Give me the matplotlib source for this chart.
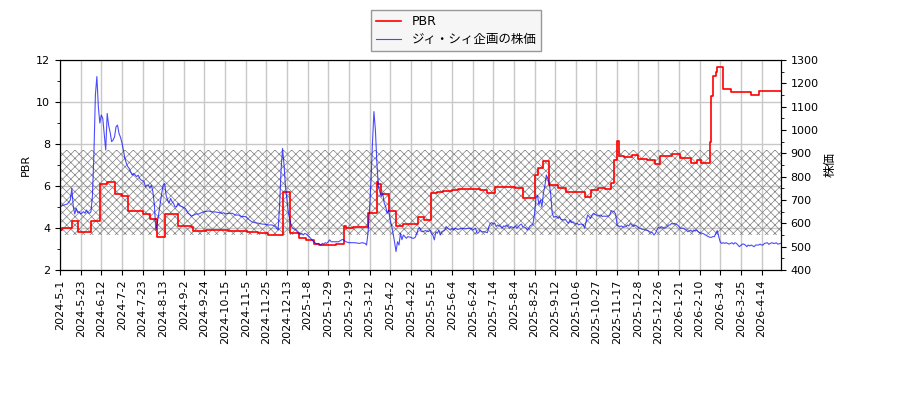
import numpy as np
import matplotlib
matplotlib.use('Agg')
import matplotlib.pyplot as plt
from matplotlib.ticker import MultipleLocator

# x軸は営業日インデックス（14営業日ごとに日付ラベル）
tick_labels = ['2024-5-1', '2024-5-23', '2024-6-12', '2024-7-2', '2024-7-23', '2024-8-13',
               '2024-9-2', '2024-9-24', '2024-10-15', '2024-11-5', '2024-11-25', '2024-12-13',
               '2025-1-8', '2025-1-29', '2025-2-19', '2025-3-12', '2025-4-2', '2025-4-22',
               '2025-5-15', '2025-6-4', '2025-6-24', '2025-7-14', '2025-8-4', '2025-8-25',
               '2025-9-12', '2025-10-6', '2025-10-27', '2025-11-17', '2025-12-8', '2025-12-26',
               '2026-1-21', '2026-2-10', '2026-3-4', '2026-3-25', '2026-4-14']
n_days = 490

# PBR（階段状）
pbr_idx = [0, 1, 8, 12, 21, 27, 32, 37, 42, 46,
           56, 61, 66, 71, 80, 89, 90, 99, 114, 127,
           134, 141, 151, 156, 162, 167, 172, 176, 187, 193,
           194, 199, 209, 215, 216, 218, 223, 228, 233, 243,
           247, 252, 256, 260, 266, 270, 285, 290, 295, 309,
           314, 319, 322, 324, 328, 332, 338, 343, 356, 360,
           365, 370, 374, 376, 378, 379, 383, 388, 392, 398,
           404, 407, 415, 421, 428, 432, 435, 441, 442, 443,
           445, 446, 450, 455, 469, 474, 489]
pbr_val = [3.90, 4.00, 4.35, 3.79, 4.35, 6.10, 6.17, 5.60, 5.52, 4.83,
           4.67, 4.41, 3.56, 4.67, 4.10, 4.03, 3.86, 3.92, 3.87, 3.79,
           3.74, 3.67, 5.70, 3.75, 3.54, 3.43, 3.22, 3.17, 3.24, 4.11,
           3.98, 4.05, 4.70, 6.21, 6.10, 5.60, 4.81, 4.10, 4.19, 4.51,
           4.38, 5.65, 5.70, 5.76, 5.83, 5.86, 5.81, 5.65, 5.94, 5.90,
           5.41, 5.44, 6.51, 6.84, 7.19, 6.03, 5.89, 5.70, 5.48, 5.81,
           5.92, 5.86, 6.13, 7.24, 8.14, 7.43, 7.38, 7.46, 7.30, 7.25,
           7.05, 7.41, 7.54, 7.33, 7.10, 7.24, 7.10, 8.11, 10.30, 11.25,
           11.41, 11.65, 10.60, 10.46, 10.35, 10.52, 10.52]

# 株価
price_idx = [0, 2, 5, 7, 8, 9, 10, 11, 12, 13,
             14, 16, 17, 18, 19, 20, 21, 22, 23, 24,
             25, 26, 27, 28, 29, 30, 31, 32, 33, 34,
             35, 36, 37, 38, 39, 40, 41, 42, 43, 44,
             45, 46, 47, 48, 49, 50, 51, 52, 53, 54,
             55, 57, 58, 59, 60, 61, 62, 63, 64, 65,
             66, 67, 68, 69, 70, 71, 72, 73, 74, 75,
             76, 77, 78, 79, 80, 81, 83, 85, 86, 87,
             88, 89, 91, 92, 94, 96, 98, 101, 103, 105,
             108, 110, 111, 112, 114, 117, 119, 121, 123, 126,
             128, 130, 132, 135, 137, 139, 141, 144, 146, 148,
             149, 150, 151, 152, 153, 154, 155, 156, 157, 158,
             160, 161, 162, 163, 164, 165, 166, 167, 169, 170,
             171, 172, 173, 174, 175, 177, 178, 179, 180, 181,
             182, 183, 184, 187, 189, 191, 192, 194, 196, 198,
             200, 203, 205, 207, 208, 209, 210, 211, 212, 213,
             214, 215, 216, 217, 218, 219, 220, 221, 222, 223,
             224, 225, 226, 227, 228, 229, 230, 231, 232, 233,
             234, 235, 236, 238, 239, 240, 241, 242, 243, 244,
             245, 246, 248, 250, 251, 252, 253, 254, 255, 256,
             257, 258, 259, 261, 262, 263, 265, 266, 267, 268,
             270, 273, 275, 277, 279, 280, 282, 283, 284, 285,
             286, 287, 288, 290, 291, 292, 293, 294, 295, 296,
             297, 299, 300, 301, 302, 303, 304, 305, 306, 308,
             309, 310, 311, 312, 313, 314, 316, 317, 318, 319,
             320, 321, 322, 323, 324, 325, 326, 327, 328, 329,
             330, 331, 332, 333, 334, 335, 336, 337, 338, 339,
             340, 342, 343, 344, 345, 346, 347, 348, 350, 351,
             352, 353, 354, 355, 356, 357, 358, 359, 360, 361,
             362, 363, 364, 365, 367, 368, 369, 370, 372, 373,
             374, 376, 377, 378, 379, 380, 381, 382, 384, 385,
             386, 387, 388, 389, 390, 391, 393, 394, 395, 396,
             397, 398, 399, 400, 402, 403, 404, 405, 406, 407,
             408, 410, 411, 412, 413, 414, 415, 416, 417, 419,
             420, 421, 422, 423, 424, 425, 426, 428, 429, 430,
             431, 432, 433, 434, 436, 437, 438, 439, 440, 441,
             442, 443, 444, 445, 446, 447, 448, 449, 450, 451,
             452, 454, 455, 456, 457, 458, 459, 460, 461, 463,
             464, 465, 466, 467, 468, 469, 471, 472, 473, 474,
             475, 476, 477, 478, 480, 481, 482, 483, 484, 485,
             486, 487, 489]
price_val = [671, 677, 683, 700, 750, 671, 640, 664, 646, 650,
             640, 650, 643, 657, 646, 643, 650, 720, 900, 1150,
             1229, 1100, 1030, 1064, 1050, 980, 914, 1071, 1020, 990,
             950, 957, 971, 1014, 1021, 986, 969, 946, 914, 879,
             857, 843, 835, 820, 807, 814, 807, 800, 807, 793,
             786, 779, 757, 764, 764, 750, 764, 736, 680, 571,
             600, 643, 686, 729, 764, 771, 720, 700, 686, 707,
             693, 686, 671, 671, 686, 676, 671, 664, 654, 643,
             639, 631, 636, 640, 640, 646, 650, 653, 649, 649,
             646, 643, 646, 640, 643, 643, 635, 636, 629, 629,
             617, 607, 603, 600, 597, 596, 593, 593, 586, 571,
             680, 829, 921, 850, 757, 700, 643, 614, 586, 579,
             571, 564, 557, 553, 557, 550, 557, 554, 543, 536,
             529, 521, 517, 511, 514, 507, 514, 511, 517, 514,
             521, 529, 521, 521, 521, 529, 531, 521, 517, 517,
             517, 514, 517, 514, 507, 560, 657, 780, 943, 1079,
             1000, 860, 760, 735, 714, 729, 686, 671, 643, 657,
             614, 590, 557, 520, 479, 521, 507, 557, 530, 550,
             543, 536, 543, 540, 536, 536, 540, 555, 575, 582,
             566, 564, 569, 564, 571, 557, 550, 529, 564, 557,
             571, 550, 564, 571, 586, 579, 571, 579, 571, 579,
             574, 579, 576, 579, 579, 571, 579, 557, 560, 571,
             564, 564, 564, 560, 586, 600, 603, 597, 600, 586,
             593, 586, 579, 589, 586, 593, 586, 579, 586, 581,
             589, 579, 586, 593, 597, 586, 581, 571, 579, 589,
             593, 600, 643, 710, 720, 680, 700, 671, 729, 760,
             807, 790, 770, 720, 643, 626, 629, 629, 621, 629,
             617, 614, 617, 607, 600, 614, 603, 607, 597, 600,
             593, 597, 596, 593, 579, 607, 636, 629, 621, 636,
             643, 638, 636, 631, 636, 629, 631, 630, 631, 636,
             654, 650, 640, 593, 589, 586, 589, 583, 586, 593,
             589, 600, 593, 586, 593, 590, 579, 579, 574, 574,
             571, 571, 569, 564, 560, 550, 557, 571, 583, 579,
             586, 579, 581, 586, 593, 593, 600, 597, 600, 593,
             586, 579, 579, 579, 574, 571, 564, 571, 564, 571,
             567, 571, 564, 560, 557, 554, 550, 546, 543, 540,
             540, 543, 543, 557, 569, 543, 520, 514, 517, 514,
             517, 511, 514, 517, 511, 517, 514, 507, 500, 511,
             511, 507, 500, 507, 503, 507, 500, 507, 507, 507,
             511, 507, 507, 514, 517, 510, 514, 517, 514, 514,
             517, 511, 514]

# 網掛け範囲（PBR）
band_low = 3.67
band_high = 7.73

plt.rcParams['font.family'] = ['DejaVu Sans', 'Noto Sans CJK JP']
plt.rcParams['font.size'] = 8
plt.rcParams['hatch.linewidth'] = 0.5

fig = plt.figure(figsize=(9, 4), dpi=100)
ax1 = fig.add_axes([0.0667, 0.325, 0.8007, 0.525])
ax1.axhspan(band_low, band_high, facecolor='none', edgecolor='gray', hatch='xxxx', linewidth=0, zorder=0.6)
l1, = ax1.step(pbr_idx, pbr_val, where='post', color='red', lw=1.2, label='PBR')

ax2 = ax1.twinx()
l2, = ax2.plot(price_idx, price_val, color='blue', alpha=0.7, lw=0.8, label='ジィ・シィ企画の株価')

ax1.set_xlim(0, n_days - 1)
ax1.set_ylim(2, 12)
ax2.set_ylim(400, 1300)
ax1.set_xticks(np.arange(len(tick_labels)) * 14)
ax1.set_xticklabels(tick_labels, rotation=90)
ax1.yaxis.set_major_locator(MultipleLocator(2))
ax1.yaxis.set_minor_locator(MultipleLocator(1))
ax2.yaxis.set_major_locator(MultipleLocator(100))
ax2.yaxis.set_minor_locator(MultipleLocator(50))
ax1.set_axisbelow(True)
ax1.grid(True, color='#c8c8c8', lw=1)
ax1.set_ylabel('PBR')
ax2.set_ylabel('株価', fontsize=9)

fig.legend(handles=[l1, l2], loc='upper center', bbox_to_anchor=(0.507, 0.99),
           fancybox=False, edgecolor='gray', facecolor='#f4f4f4', fontsize=9,
           labelspacing=0.4)

fig.savefig('out.png', dpi=100)
